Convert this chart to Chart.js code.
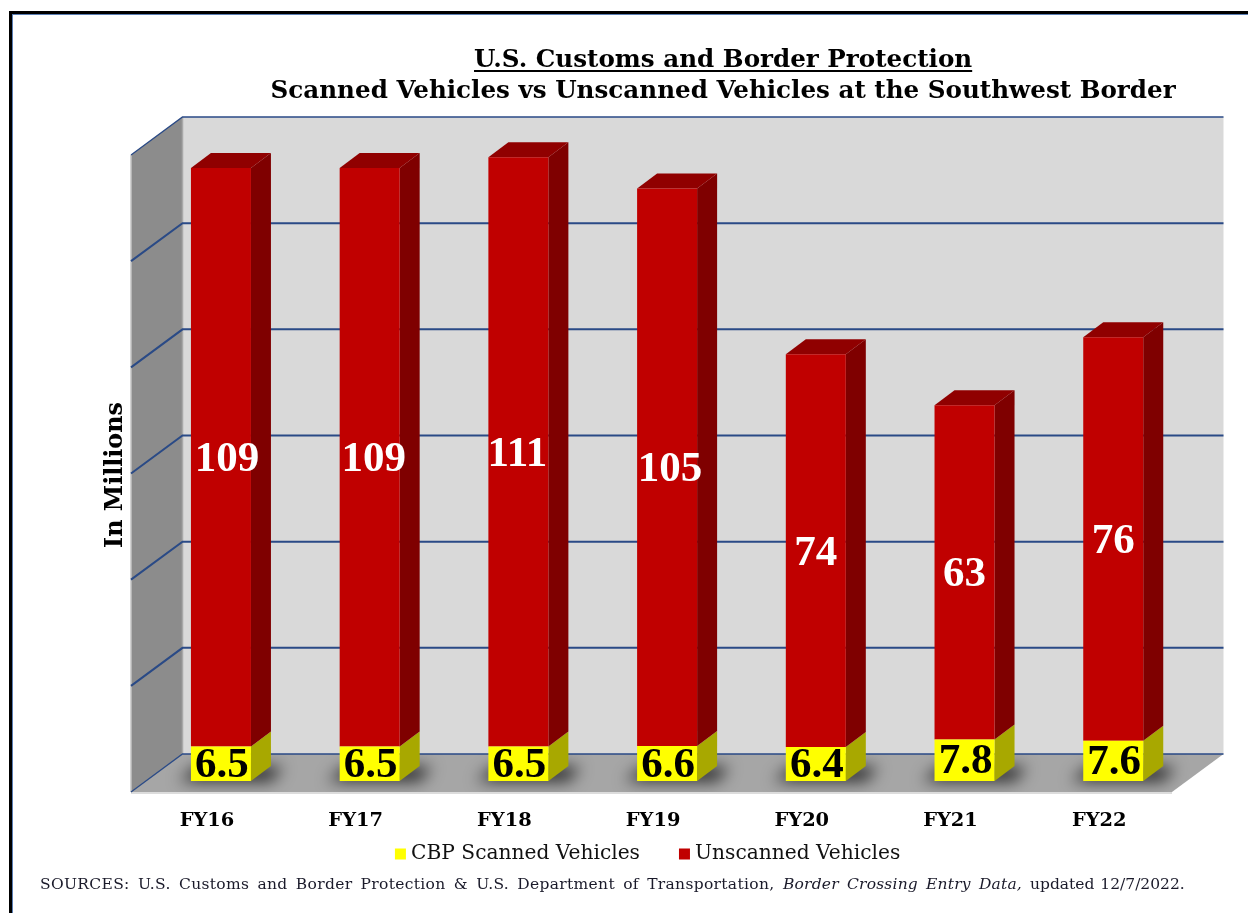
<!DOCTYPE html>
<html><head><meta charset="utf-8">
<style>html,body{margin:0;padding:0;background:#fff}canvas{display:block}</style>
<script src="https://cdn.jsdelivr.net/npm/chart.js@4"></script>
</head><body>
<canvas id="c" width="1248" height="913"></canvas>
<script>
const categories = ["FY16","FY17","FY18","FY19","FY20","FY21","FY22"];
const scanned = [6.5,6.5,6.5,6.6,6.4,7.8,7.6];
const unscanned = [109,109,111,105,74,63,76];
const titleLines = ["U.S. Customs and Border Protection","Scanned Vehicles vs Unscanned Vehicles at the Southwest Border"];
const seriesNames = ["CBP Scanned Vehicles","Unscanned Vehicles"];
const axisLabel = "In Millions";
const sourceParts = ["SOURCES: U.S. Customs and Border Protection & U.S. Department of Transportation,","Border Crossing Entry Data,","updated 12/7/2022."];

const SERIF = '"DejaVu Serif"';
const NUM = '"Liberation Serif"';
const GRID = '#2a4a86';

function poly(ctx, pts, fill){
  ctx.beginPath();
  pts.forEach((p,i)=> i?ctx.lineTo(p[0],p[1]):ctx.moveTo(p[0],p[1]));
  ctx.closePath();
  if(fill){ctx.fillStyle=fill;ctx.fill();}
}

const room = {
  id:'room',
  afterLayout(chart){
    const t = chart.titleBlock; t.left += 56; t.right += 56;
    const l = chart.legend; const h = l.height; l.left += -17; l.right += -17; l.top = 800; l.bottom = 800 + h;
  },
  beforeDraw(chart){
    const ctx = chart.ctx; ctx.save();
    ctx.fillStyle='#fff'; ctx.fillRect(0,0,chart.width,chart.height);
    ctx.fillStyle='#000'; ctx.fillRect(9,11,chart.width-9,3); ctx.fillRect(9,11,3,chart.height-11);
    ctx.fillStyle='#5b7fb5'; ctx.fillRect(12,14,chart.width-12,1); ctx.fillRect(12,14,1,chart.height-14);
    ctx.restore();
  },
  beforeDatasetsDraw(chart){
    const ctx = chart.ctx, y = chart.scales.y, a = chart.chartArea;
    const fl = a.left-15.6, fr = a.right-15.6, depthX = 51.5, backUp = 27, frontDown = 11;
    const y0 = y.getPixelForValue(0), yMax = y.getPixelForValue(120);
    ctx.save();
    poly(ctx,[[fl+depthX,yMax-backUp],[fr+depthX,yMax-backUp],[fr+depthX,y0-backUp],[fl+depthX,y0-backUp]],'#d9d9d9');
    poly(ctx,[[fl,yMax+frontDown],[fl+depthX,yMax-backUp],[fl+depthX,y0-backUp],[fl,y0+frontDown]],'#8c8c8c');
    const floor=[[fl,y0+frontDown],[fl+depthX,y0-backUp],[fr+depthX,y0-backUp],[fr,y0+frontDown]];
    poly(ctx,floor,'#a6a6a6');
    // wall edges
    ctx.lineWidth=1.5; ctx.strokeStyle='#c4c4c4';
    ctx.beginPath();ctx.moveTo(fl,yMax+frontDown);ctx.lineTo(fl,y0+frontDown);ctx.stroke();
    ctx.strokeStyle='#a8a8a8';
    ctx.beginPath();ctx.moveTo(fl+depthX,yMax-backUp);ctx.lineTo(fl+depthX,y0-backUp);ctx.stroke();
    ctx.lineWidth=2; ctx.strokeStyle='#dcdcdc';
    ctx.beginPath();ctx.moveTo(fl,y0+frontDown+1);ctx.lineTo(fr,y0+frontDown+1);ctx.stroke();
    // gridlines from the value scale
    ctx.strokeStyle=GRID;
    y.ticks.forEach(t=>{
      const p=y.getPixelForValue(t.value);
      ctx.lineWidth=(t.value===0||t.value===120)?1.3:2;
      ctx.beginPath();
      ctx.moveTo(fl,p+frontDown);ctx.lineTo(fl+depthX,p-backUp);ctx.lineTo(fr+depthX,p-backUp);
      ctx.stroke();
    });
    // floor shadows and 3D sides
    const base = chart.getDatasetMeta(0).data, top = chart.getDatasetMeta(1).data;
    ctx.save();
    poly(ctx,floor); ctx.clip();
    ctx.filter='blur(8px)';
    base.forEach(b=>{
      const r=b.x+b.width/2,l=b.x-b.width/2,yb=b.base;
      poly(ctx,[[l-12,yb],[l+6,yb-14],[r+32,yb-14],[r+20,yb]],'rgba(0,0,0,.8)');
    });
    ctx.restore();
    const dx=20, dy=15;
    [[base,'#a8a800'],[top,'#7f0000']].forEach(([els,col])=>{
      els.forEach(b=>{
        const r=b.x+b.width/2;
        poly(ctx,[[r,b.y],[r+dx,b.y-dy],[r+dx,b.base-dy],[r,b.base]],col);
      });
    });
    top.forEach(b=>{
      const r=b.x+b.width/2,l=b.x-b.width/2;
      poly(ctx,[[l,b.y],[l+dx,b.y-dy],[r+dx,b.y-dy],[r,b.y]],'#900000');
    });
    ctx.restore();
  },
  afterDraw(chart){
    const ctx = chart.ctx;
    const base = chart.getDatasetMeta(0).data, top = chart.getDatasetMeta(1).data;
    const nudge=[6,4,-1,3,0,0,0];
    ctx.save();
    ctx.textAlign='center'; ctx.textBaseline='middle';
    ctx.font='bold 43px '+NUM;
    ctx.fillStyle='#000';
    base.forEach((b,i)=>ctx.fillText(scanned[i].toFixed(1),b.x+1,(b.y+b.base)/2+2));
    ctx.fillStyle='#fff';
    top.forEach((b,i)=>ctx.fillText(String(unscanned[i]),b.x+nudge[i],(b.y+b.base)/2+3));
    // axis caption
    ctx.save();
    ctx.translate(116,475); ctx.rotate(-Math.PI/2);
    ctx.fillStyle='#000'; ctx.font='bold 23.8px '+SERIF;
    ctx.fillText(axisLabel,0,0);
    ctx.restore();
    // underline of first title line
    ctx.font='bold 24.6px '+SERIF;
    const w=ctx.measureText(titleLines[0]).width, cx=(chart.titleBlock.left+chart.titleBlock.right)/2;
    ctx.fillStyle='#000'; ctx.fillRect(cx-w/2,70,w,2);
    // sources
    ctx.textAlign='left'; ctx.textBaseline='alphabetic'; ctx.fillStyle='#1a1a2a';
    ctx.wordSpacing='3px'; ctx.letterSpacing='0.32px';
    ctx.font='15.5px '+SERIF; ctx.fillText(sourceParts[0],40,889);
    ctx.letterSpacing='0.2px';
    ctx.font='italic 15.5px '+SERIF; ctx.fillText(sourceParts[1],783,889);
    ctx.wordSpacing='1px'; ctx.letterSpacing='0px';
    ctx.font='15.5px '+SERIF; ctx.fillText(sourceParts[2],1030,889);
    ctx.restore();
  }
};

new Chart(document.getElementById('c'),{
  type:'bar',
  data:{labels:categories,datasets:[
    {label:seriesNames[0],data:scanned,backgroundColor:'#ffff00',stack:'s',barPercentage:1,categoryPercentage:0.4035},
    {label:seriesNames[1],data:unscanned,backgroundColor:'#c00000',stack:'s',barPercentage:1,categoryPercentage:0.4035}
  ]},
  options:{
    responsive:false,animation:false,devicePixelRatio:1,
    layout:{padding:{left:146.6,right:60.4,top:0,bottom:0}},
    plugins:{
      tooltip:{enabled:false},
      title:{display:true,text:titleLines,color:'#000',
        font:{family:SERIF,size:24.6,weight:'bold',lineHeight:1.26},
        padding:{top:45,bottom:37}},
      legend:{display:true,position:'bottom',
        labels:{usePointStyle:true,pointStyle:'rect',boxWidth:1,boxHeight:11,padding:44,color:'#111',
          font:{family:SERIF,size:20.2}}}
    },
    scales:{
      x:{stacked:true,grid:{display:false,drawTicks:false},border:{display:false},
        afterFit(s){s.height=913-781-(s.chart.legend?s.chart.legend.height:0);},
        ticks:{color:'#000',padding:28,labelOffset:-14,maxRotation:0,autoSkip:false,
          font:{family:SERIF,size:19.4,weight:'bold'}}},
      y:{stacked:true,min:0,max:120,grid:{display:false,drawTicks:false},border:{display:false},
        ticks:{stepSize:20,display:false}}
    }
  },
  plugins:[room]
});
</script>
</body></html>
